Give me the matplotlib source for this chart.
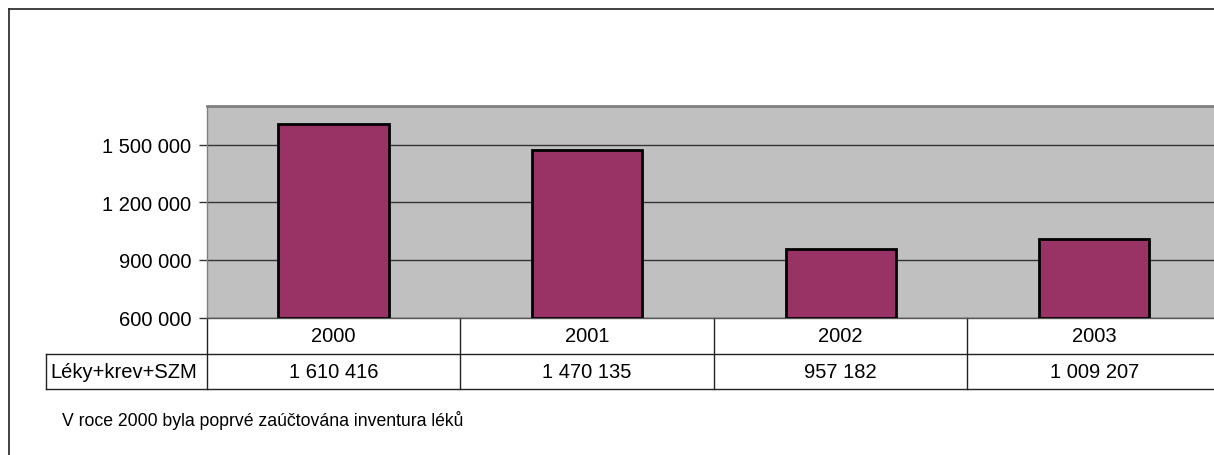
import matplotlib
matplotlib.use("Agg")
import matplotlib.pyplot as plt
import matplotlib.transforms as mtransforms
from matplotlib.lines import Line2D
from matplotlib.ticker import FuncFormatter

plt.rcParams['font.family'] = ['Liberation Sans', 'DejaVu Sans']

# Data
years = ["2000", "2001", "2002", "2003"]
series_name = "Léky+krev+SZM"
values = [1610416, 1470135, 957182, 1009207]
y_ticks = [600000, 900000, 1200000, 1500000]
note = "V roce 2000 byla poprvé zaúčtována inventura léků"

W, H = 1214, 456
DPI = 100
FS = 14.5
FS_NOTE = 12.7

def fy(py):
    return 1 - py / H

def fx(px):
    return px / W

def spaced(v):
    return f"{int(v):,}".replace(",", " ")

fig = plt.figure(figsize=(W / DPI, H / DPI), dpi=DPI)
fig.patch.set_facecolor("white")

# Plot area
left, right, top, bottom = 206.7, 1221.0, 107.3, 318.5
ax = fig.add_axes([fx(left), fy(bottom), fx(right) - fx(left), fy(top) - fy(bottom)])
ax.set_facecolor("#C0C0C0")
ax.set_xlim(-0.5, len(years) - 0.5)
ax.set_ylim(600000, 1700000)

x = list(range(len(years)))
ax.bar(x, [v - 600000 for v in values], bottom=600000, width=0.434,
       color="#993366", edgecolor="black", linewidth=2.0, zorder=3)

ax.set_yticks(y_ticks)
ax.yaxis.set_major_formatter(FuncFormatter(lambda v, p: spaced(v)))
ax.grid(axis="y", color="#333333", linewidth=1.0, zorder=1)
ax.set_axisbelow(True)
ax.tick_params(axis="y", direction="out", length=6, width=1, color="#333333",
               labelsize=FS, pad=5, labelcolor="black")
ax.set_xticks([])

ax.spines["right"].set_visible(False)
ax.spines["top"].set_color("#808080")
ax.spines["top"].set_linewidth(2.0)
ax.spines["bottom"].set_color("#555555")
ax.spines["bottom"].set_linewidth(1.0)
ax.spines["left"].set_color("#808080")
ax.spines["left"].set_linewidth(1.0)

# Data table below the plot area
bt = mtransforms.blended_transform_factory(ax.transData, fig.transFigure)
row1_top, row1_bot, row2_bot = 318.5, 355.0, 390.0
line_kw = dict(color="#222222", linewidth=1.0, clip_on=False)

# horizontal lines
fig.add_artist(Line2D([fx(46), fx(W)], [fy(row1_bot), fy(row1_bot)], **line_kw))
fig.add_artist(Line2D([fx(46), fx(W)], [fy(row2_bot), fy(row2_bot)], **line_kw))
# label cell left border
fig.add_artist(Line2D([fx(46), fx(46)], [fy(row1_bot), fy(row2_bot)], **line_kw))
# column separators
for i in range(len(years) + 1):
    xb = i - 0.5
    ax.add_artist(Line2D([xb, xb], [fy(row1_top), fy(row2_bot)], transform=bt, **line_kw))

for i, (yr, v) in enumerate(zip(years, values)):
    ax.text(i, fy(336.5), yr, transform=bt, ha="center", va="center", fontsize=FS)
    ax.text(i, fy(373), spaced(v), transform=bt, ha="center", va="center", fontsize=FS)

fig.text(fx(50), fy(373), series_name, ha="left", va="center", fontsize=FS)

# Footnote
fig.text(fx(62), fy(421), note, ha="left", va="center", fontsize=FS_NOTE)

# Outer frame (top and left edges)
fig.add_artist(Line2D([fx(8.5), fx(W)], [fy(10), fy(10)], color="#222222", linewidth=1.2))
fig.add_artist(Line2D([fx(8.5), fx(8.5)], [fy(10), 0], color="#222222", linewidth=1.2))

fig.savefig("out.png", dpi=DPI, facecolor="white")
